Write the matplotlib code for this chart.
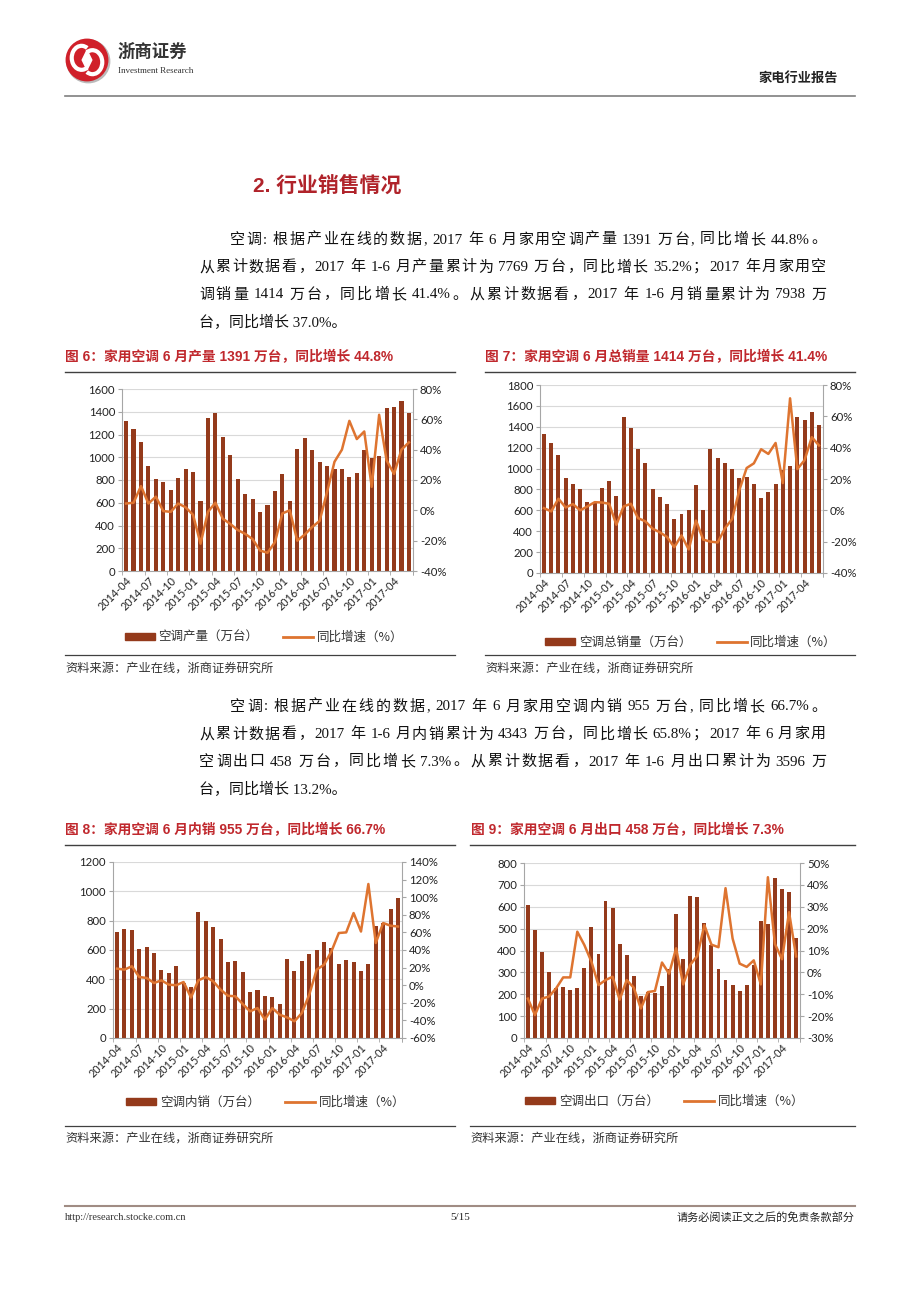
import re
import matplotlib
matplotlib.use('Agg')
import matplotlib.pyplot as plt
import matplotlib.patches as mpatches
from matplotlib.lines import Line2D
from matplotlib.ticker import FuncFormatter
import numpy as np
import pandas as pd

# ---- data (万台 / %), 2014-04 .. 2017-06 ----
months = list(pd.period_range('2014-04', '2017-06', freq='M').strftime('%Y-%m'))

prod = [1320, 1250, 1130, 925, 805, 785, 715, 815, 895, 870,
        615, 1345, 1390, 1180, 1020, 805, 675, 635, 520, 580,
        700, 855, 615, 1075, 1168, 1065, 962, 927, 898, 895,
        830, 860, 1065, 992, 1012, 1436, 1439, 1498, 1391]
prod_yoy = [4.5, 5, 16, 4.5, 9, -0.5, -1, 4.5, 2, -3,
            -22, -1, 5, -5.5, -9, -13, -15.5, -19, -26.5, -28,
            -21, -2, 0, -20, -16, -11, -7, 12, 32, 40,
            59, 47, 52, 15.5, 63, 33, 24, 40, 44.8]

sales = [1335, 1240, 1125, 910, 850, 805, 680, 675, 810, 885,
         735, 1490, 1390, 1190, 1050, 800, 725, 660, 515, 565,
         600, 845, 600, 1185, 1105, 1050, 1000, 910, 920, 855,
         715, 775, 850, 990, 1025, 1490, 1465, 1545, 1414]
sales_yoy = [1.4, -0.7, 7.4, 1.8, 4, 0, 2.5, 5.2, 5, 4.2,
             -9.2, 2.5, 4.2, -5, -7, -11.7, -14, -17, -23.5, -16,
             -25, -6.5, -18.7, -20, -20.5, -11.5, -5.5, 13, 27, 30,
             39, 36, 43, 17.4, 71.5, 26.3, 32, 46.7, 41.4]

dom = [723, 745, 736, 605, 620, 577, 464, 441, 491, 378,
       350, 862, 797, 758, 673, 518, 527, 449, 315, 329,
       284, 279, 234, 538, 459, 527, 572, 597, 656, 615,
       506, 529, 518, 454, 504, 761, 784, 879, 955]
dom_yoy = [18.8, 17.7, 21.5, 9.3, 8.2, 2.5, 5.5, 0.6, 0, 3.6,
           -14, 5.5, 9.3, 4.4, -5, -12, -12.6, -21.4, -29.7, -26,
           -39, -26, -33.5, -36.6, -41, -31.6, -10.8, 17.6, 23.3, 38.4,
           59.3, 60, 82, 61, 115, 48, 70.7, 67.6, 66.7]

exp = [609, 494, 392, 304, 230, 231, 220, 228, 318, 509,
       384, 626, 596, 431, 379, 283, 190, 210, 205, 237,
       316, 566, 362, 647, 643, 524, 427, 315, 263, 242,
       213, 243, 333, 535, 520, 733, 681, 667, 458]
exp_yoy = [-12, -19.5, -12, -11, -7.3, -2.3, -2.3, 18.6, 12.5, 4.9,
           -5.8, -3.5, -2, -12.5, -3.5, -7, -16.5, -9, -8.5, 4.5,
           -0.6, 11, -5.5, 3.5, 7.5, 21.6, 12.7, 11.5, 38.5, 15.5,
           4, 2.5, 5.5, -5.5, 43.5, 13, 6, 27.5, 7.3]

W, H = 920, 1302
BAR = '#943A1B'
LINE = '#DE7430'
RED = '#C0282D'
CJK = ['Noto Sans CJK SC']
BODY = ['Liberation Serif', 'Noto Sans CJK SC']
TICK = ['Lato', 'Noto Sans CJK SC']

fig = plt.figure(figsize=(W / 100, H / 100), dpi=100)
renderer = fig.canvas.get_renderer()


def fx(x):
    return x / W


def fy(y):
    return 1 - y / H


def hline(x0, x1, y, color, lw):
    fig.add_artist(Line2D([fx(x0), fx(x1)], [fy(y), fy(y)], color=color, lw=lw))


def text(x, y, s, **kw):
    return fig.text(fx(x), fy(y), s, va='center', **kw)


def width(s, **kw):
    t = fig.text(0, 0, s, **kw)
    w = t.get_window_extent(renderer).width
    t.remove()
    return w


def justified(x0, x1, y, s, **kw):
    # spread the extra room evenly over the gaps between tokens, like the report's justified lines
    toks = [(m.start(), m.group()) for m in re.finditer(r'[\x21-\x7e]+|[^\s]', s)]
    ref = width('M', **kw)
    pos = [width(s[:k] + 'M', **kw) - ref if k else 0 for k, _ in toks]
    natural = width(s + 'M', **kw) - ref
    extra = (x1 - x0 - natural) / (len(toks) - 1)
    for j, ((k, tok), p) in enumerate(zip(toks, pos)):
        text(x0 + p + j * extra, y, tok, **kw)


# ---- page header ----
lax = fig.add_axes([fx(63), fy(84), fx(48), 48 / H])
lax.set_xlim(-1.1, 1.1)
lax.set_ylim(-1.1, 1.1)
lax.set_aspect('equal')
lax.axis('off')
lax.add_patch(mpatches.Circle((0.06, -0.06), 0.98, color='#BBBBBB'))
lax.add_patch(mpatches.Circle((0, 0), 0.95, color='#D0202A'))
lax.add_patch(mpatches.Arc((-0.25, 0.1), 0.9, 1.1, theta1=60, theta2=300, color='white', lw=3))
lax.add_patch(mpatches.Arc((0.25, -0.1), 0.9, 1.1, theta1=240, theta2=480, color='white', lw=3))
lax.add_patch(mpatches.Polygon([[0, 0.45], [0.22, 0], [0, -0.45], [-0.22, 0]], color='white'))

text(118, 52, '浙商证券', family=CJK, fontsize=12.5, color='#333333', weight='bold')
text(118, 71, 'Investment Research', family=['Liberation Serif'], fontsize=6.5, color='#333333')
text(838, 78, '家电行业报告', family=CJK, fontsize=9.5, weight='bold', color='#222222', ha='right')
hline(65, 855, 96, '#7F7F7F', 1.2)

text(253, 186, '2. 行业销售情况', family=['Liberation Sans', 'Noto Sans CJK SC'],
     fontsize=15, weight='bold', color='#B0232A')

para1 = ['空调: 根据产业在线的数据, 2017 年 6 月家用空调产量 1391 万台, 同比增长 44.8%。',
         '从累计数据看，2017 年 1-6 月产量累计为 7769 万台，同比增长 35.2%；2017 年月家用空',
         '调销量 1414 万台，同比增长 41.4%。从累计数据看，2017 年 1-6 月销量累计为 7938 万',
         '台，同比增长 37.0%。']
para2 = ['空调: 根据产业在线的数据, 2017 年 6 月家用空调内销 955 万台, 同比增长 66.7%。',
         '从累计数据看，2017 年 1-6 月内销累计为 4343 万台，同比增长 65.8%；2017 年 6 月家用',
         '空调出口 458 万台，同比增长 7.3%。从累计数据看，2017 年 1-6 月出口累计为 3596 万',
         '台，同比增长 13.2%。']
body_kw = dict(family=BODY, fontsize=10.8, color='#111111')
for lines, y0 in [(para1, 240), (para2, 707)]:
    for i, s in enumerate(lines):
        x0 = 230 if i == 0 else 199
        if i < len(lines) - 1:
            justified(x0, 826, y0 + i * 27.5, s, **body_kw)
        else:
            text(x0, y0 + i * 27.5, s, **body_kw)


# ---- charts ----
def pct(v, p):
    return f'{v:.0f}%'


def chart(box, bars, yoy, lmax, lstep, rmin, rmax, rstep):
    l, r, t, b = box
    ax = fig.add_axes([fx(l), fy(b), fx(r - l), (b - t) / H])
    x = np.arange(len(bars))
    ax.bar(x, bars, width=0.55, color=BAR, zorder=2)
    ax.set_ylim(0, lmax)
    ax.set_yticks(range(0, lmax + 1, lstep))
    ax.set_xlim(-0.55, len(bars) - 0.45)
    ax.grid(axis='y', color='#D9D9D9', lw=0.8)
    ax.set_axisbelow(True)
    ax.set_xticks(x[::3])
    ax.set_xticklabels(months[::3], rotation=45, ha='right', rotation_mode='anchor',
                       family=TICK, fontsize=7.8, color='#222222')
    ax.set_xticks(np.append(np.arange(-0.5, len(bars), 3), len(bars) - 0.5), minor=True)
    ax.tick_params(axis='x', which='major', length=0, pad=3)
    ax.tick_params(axis='x', which='minor', length=3, color='#A6A6A6')
    ax.tick_params(axis='y', length=3, color='#A6A6A6', labelsize=8.2, labelcolor='#222222', pad=2)
    for lab in ax.get_yticklabels():
        lab.set_family(TICK)
    for s in ['top', 'right']:
        ax.spines[s].set_visible(False)
    for s in ['left', 'bottom']:
        ax.spines[s].set_color('#A6A6A6')

    ax2 = ax.twinx()
    ax2.plot(x, yoy, color=LINE, lw=1.8, zorder=3)
    ax2.set_ylim(rmin, rmax)
    ax2.set_yticks(np.arange(rmin, rmax + 1, rstep))
    ax2.yaxis.set_major_formatter(FuncFormatter(pct))
    ax2.tick_params(axis='y', length=3, color='#A6A6A6', labelsize=8.2, labelcolor='#222222', pad=2)
    for lab in ax2.get_yticklabels():
        lab.set_family(TICK)
    for s in ['top', 'left', 'bottom']:
        ax2.spines[s].set_visible(False)
    ax2.spines['right'].set_color('#A6A6A6')
    return ax


def legend(cx, cy, bar_label):
    handles = [mpatches.Patch(color=BAR), Line2D([], [], color=LINE, lw=2)]
    fig.legend(handles, [bar_label, '同比增速（%）'], loc='center',
               bbox_to_anchor=(fx(cx), fy(cy)), ncol=2, frameon=False,
               handlelength=2.4, handleheight=0.5, columnspacing=2.0, handletextpad=0.3,
               prop={'family': CJK, 'size': 9}, labelcolor='#333333')


panels = [
    dict(box=(122, 413, 389, 571), bars=prod, yoy=prod_yoy, lim=(1600, 200, -40, 80, 20),
         title='图 6：家用空调 6 月产量 1391 万台，同比增长 44.8%', tx=65, ty=357,
         rule=(65, 455), top=372, bottom=655, src=668, leg=(264, 637), name='空调产量（万台）'),
    dict(box=(540, 823, 385, 573), bars=sales, yoy=sales_yoy, lim=(1800, 200, -40, 80, 20),
         title='图 7：家用空调 6 月总销量 1414 万台，同比增长 41.4%', tx=485, ty=357,
         rule=(485, 855), top=372, bottom=655, src=668, leg=(691, 642), name='空调总销量（万台）'),
    dict(box=(113, 402, 862, 1038), bars=dom, yoy=dom_yoy, lim=(1200, 200, -60, 140, 20),
         title='图 8：家用空调 6 月内销 955 万台，同比增长 66.7%', tx=65, ty=830,
         rule=(65, 455), top=845, bottom=1126, src=1138, leg=(266, 1102), name='空调内销（万台）'),
    dict(box=(524, 800, 863, 1038), bars=exp, yoy=exp_yoy, lim=(800, 100, -30, 50, 10),
         title='图 9：家用空调 6 月出口 458 万台，同比增长 7.3%', tx=471, ty=830,
         rule=(470, 855), top=845, bottom=1126, src=1138, leg=(665, 1101), name='空调出口（万台）'),
]

for p in panels:
    lmax, lstep, rmin, rmax, rstep = p['lim']
    chart(p['box'], p['bars'], p['yoy'], lmax, lstep, rmin, rmax, rstep)
    text(p['tx'], p['ty'], p['title'], family=['Liberation Sans', 'Noto Sans CJK SC'],
         fontsize=9.9, weight='bold', color=RED)
    hline(p['rule'][0], p['rule'][1], p['top'], '#404040', 1.0)
    hline(p['rule'][0], p['rule'][1], p['bottom'], '#404040', 0.9)
    text(p['rule'][0], p['src'], '资料来源：产业在线，浙商证券研究所', family=CJK,
         fontsize=8.8, color='#333333')
    legend(p['leg'][0], p['leg'][1], p['name'])

# ---- footer ----
hline(65, 855, 1206, '#A08C84', 1.5)
text(65, 1217, 'http://research.stocke.com.cn', family=['Liberation Serif'], fontsize=7.5, color='#333333')
text(460, 1218, '5/15', family=['Liberation Serif'], fontsize=8, color='#222222', ha='center')
text(855, 1217, '请务必阅读正文之后的免责条款部分', family=CJK, fontsize=8, color='#222222', ha='right')

fig.savefig('out.png', dpi=100, facecolor='white')
